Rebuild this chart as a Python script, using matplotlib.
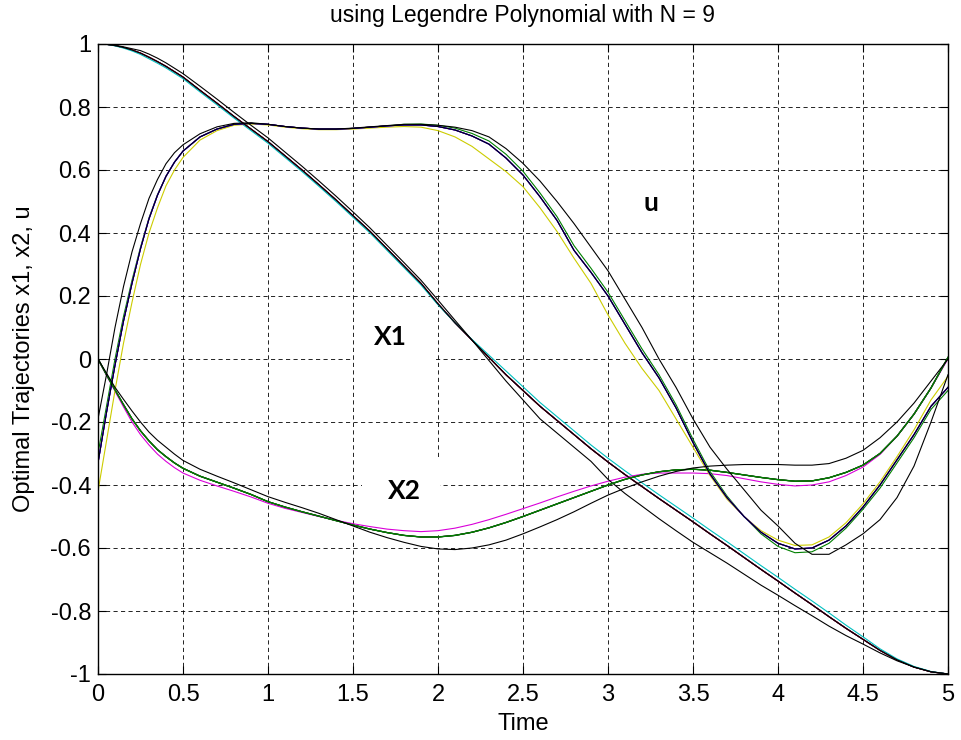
import matplotlib
matplotlib.use("Agg")
import matplotlib.pyplot as plt
from matplotlib.patches import Rectangle

# time samples (finer at the start where u rises steeply)
t = [0.0, 0.05, 0.1, 0.15, 0.2, 0.25, 0.3, 0.35, 0.4, 0.45, 0.5,
     0.6, 0.7, 0.8, 0.9, 1.0, 1.1, 1.2, 1.3, 1.4, 1.5, 1.6, 1.7, 1.8, 1.9, 2.0,
     2.1, 2.2, 2.3, 2.4, 2.5, 2.6, 2.7, 2.8, 2.9, 3.0, 3.1, 3.2, 3.3, 3.4, 3.5,
     3.6, 3.7, 3.8, 3.9, 4.0, 4.1, 4.2, 4.3, 4.4, 4.5, 4.6, 4.7, 4.8, 4.9, 5.0]

x1_main = [1.0, 0.999, 0.995, 0.989, 0.981, 0.971, 0.958, 0.944, 0.929, 0.912, 0.895,
           0.853, 0.812, 0.77, 0.73, 0.69, 0.645, 0.6, 0.553, 0.505, 0.455, 0.405, 0.35, 0.295, 0.24, 0.175,
           0.115, 0.06, 0.005, -0.05, -0.1, -0.15, -0.195, -0.24, -0.285, -0.327, -0.367, -0.405, -0.443, -0.48, -0.517,
           -0.555, -0.592, -0.63, -0.668, -0.705, -0.743, -0.78, -0.818, -0.855, -0.89, -0.925, -0.955, -0.978, -0.993, -1.0]
x1_cyan = [1.0, 0.999, 0.994, 0.987, 0.978, 0.967, 0.953, 0.939, 0.924, 0.907, 0.89,
           0.848, 0.807, 0.765, 0.725, 0.685, 0.64, 0.595, 0.548, 0.5, 0.45, 0.4, 0.345, 0.29, 0.235, 0.172,
           0.115, 0.062, 0.012, -0.038, -0.088, -0.138, -0.183, -0.228, -0.273, -0.315, -0.355, -0.393, -0.431, -0.468, -0.505,
           -0.543, -0.58, -0.618, -0.656, -0.693, -0.731, -0.768, -0.806, -0.845, -0.882, -0.92, -0.952, -0.976, -0.992, -1.0]
x1_black = [1.0, 0.999, 0.996, 0.991, 0.985, 0.979, 0.968, 0.955, 0.94, 0.923, 0.906,
            0.866, 0.825, 0.783, 0.742, 0.702, 0.657, 0.612, 0.565, 0.517, 0.467, 0.416, 0.361, 0.306, 0.25, 0.187,
            0.123, 0.06, -0.005, -0.07, -0.13, -0.19, -0.235, -0.28, -0.325, -0.382, -0.427, -0.467, -0.507, -0.545, -0.582,
            -0.615, -0.648, -0.683, -0.718, -0.75, -0.783, -0.815, -0.848, -0.878, -0.905, -0.933, -0.958, -0.978, -0.993, -1.0]

x2_main = [0.0, -0.05, -0.098, -0.145, -0.19, -0.228, -0.26, -0.288, -0.31, -0.33, -0.347,
           -0.372, -0.391, -0.41, -0.43, -0.453, -0.47, -0.485, -0.499, -0.513, -0.527, -0.54, -0.551, -0.56, -0.565, -0.565,
           -0.56, -0.55, -0.536, -0.519, -0.5, -0.48, -0.46, -0.44, -0.42, -0.4, -0.382, -0.368, -0.358, -0.352, -0.35,
           -0.353, -0.36, -0.368, -0.376, -0.383, -0.388, -0.387, -0.377, -0.36, -0.337, -0.3, -0.245, -0.175, -0.092, 0.005]
x2_magenta = [0.0, -0.052, -0.102, -0.152, -0.2, -0.24, -0.273, -0.302, -0.325, -0.345, -0.362,
              -0.385, -0.403, -0.42, -0.438, -0.458, -0.474, -0.487, -0.5, -0.512, -0.523, -0.532, -0.54, -0.545, -0.548, -0.545,
              -0.537, -0.525, -0.51, -0.493, -0.475, -0.457, -0.438, -0.42, -0.403, -0.388, -0.375, -0.366, -0.362, -0.362, -0.362,
              -0.364, -0.37, -0.38, -0.39, -0.398, -0.403, -0.4, -0.39, -0.37, -0.343, -0.303, -0.245, -0.175, -0.092, 0.0]
x2_black = [0.0, -0.045, -0.09, -0.128, -0.165, -0.2, -0.232, -0.258, -0.28, -0.302, -0.322,
            -0.35, -0.372, -0.393, -0.415, -0.437, -0.455, -0.472, -0.49, -0.51, -0.53, -0.55, -0.567, -0.582, -0.595, -0.603,
            -0.605, -0.6, -0.59, -0.575, -0.555, -0.533, -0.51, -0.485, -0.458, -0.432, -0.41, -0.39, -0.372, -0.357, -0.346,
            -0.34, -0.337, -0.335, -0.335, -0.335, -0.337, -0.337, -0.332, -0.315, -0.29, -0.25, -0.2, -0.14, -0.07, 0.0]

u_main = [-0.33, -0.17, -0.02, 0.12, 0.24, 0.35, 0.445, 0.52, 0.58, 0.625, 0.66,
          0.705, 0.73, 0.745, 0.748, 0.745, 0.738, 0.733, 0.73, 0.73, 0.732, 0.736, 0.74, 0.743, 0.743, 0.738,
          0.727, 0.708, 0.682, 0.638, 0.584, 0.515, 0.44, 0.345, 0.275, 0.2, 0.11, 0.02, -0.06, -0.155, -0.265,
          -0.365, -0.44, -0.5, -0.55, -0.585, -0.603, -0.6, -0.575, -0.53, -0.47, -0.4, -0.32, -0.24, -0.15, -0.09]
u_green = [-0.3, -0.15, 0.0, 0.135, 0.25, 0.355, 0.448, 0.522, 0.58, 0.625, 0.66,
           0.705, 0.73, 0.745, 0.748, 0.745, 0.738, 0.733, 0.73, 0.73, 0.732, 0.736, 0.74, 0.745, 0.746, 0.742,
           0.733, 0.716, 0.692, 0.65, 0.596, 0.527, 0.452, 0.36, 0.288, 0.212, 0.122, 0.032, -0.05, -0.145, -0.255,
           -0.357, -0.435, -0.5, -0.555, -0.595, -0.615, -0.612, -0.585, -0.537, -0.477, -0.41, -0.33, -0.25, -0.16, -0.1]
u_yellow = [-0.42, -0.26, -0.1, 0.05, 0.18, 0.3, 0.4, 0.48, 0.55, 0.6, 0.64,
            0.695, 0.725, 0.742, 0.746, 0.743, 0.736, 0.731, 0.728, 0.728, 0.73, 0.733, 0.736, 0.738, 0.736, 0.725,
            0.705, 0.675, 0.635, 0.595, 0.547, 0.48, 0.405, 0.32, 0.24, 0.14, 0.05, -0.03, -0.1, -0.19, -0.28,
            -0.37, -0.445, -0.5, -0.545, -0.575, -0.592, -0.59, -0.565, -0.52, -0.46, -0.39, -0.31, -0.225, -0.13, -0.055]
u_black = [-0.19, -0.05, 0.1, 0.23, 0.34, 0.43, 0.51, 0.57, 0.62, 0.655, 0.68,
           0.715, 0.737, 0.748, 0.75, 0.745, 0.738, 0.733, 0.73, 0.73, 0.733, 0.737, 0.741, 0.745, 0.745, 0.742,
           0.736, 0.725, 0.705, 0.668, 0.621, 0.565, 0.5, 0.43, 0.355, 0.28, 0.19, 0.1, 0.0, -0.09, -0.19,
           -0.28, -0.35, -0.415, -0.48, -0.53, -0.585, -0.62, -0.62, -0.59, -0.555, -0.51, -0.44, -0.34, -0.2, -0.05]

C_R = (1, 0, 0)
C_G = (0, 0.5, 0)
C_B = (0, 0, 1)
C_C = (0, 0.75, 0.75)
C_M = (0.85, 0, 0.85)
C_Y = (0.8, 0.8, 0)
C_K = (0, 0, 0)

plt.rcParams['font.family'] = ['Liberation Sans', 'DejaVu Sans']


def draw_bundle(ax):
    lw = 0.8
    # x1
    for c in [C_Y, C_M, C_G, C_B, C_R]:
        ax.plot(t, x1_main, color=c, lw=lw, zorder=2)
    ax.plot(t, x1_cyan, color=C_C, lw=lw, zorder=2)
    ax.plot(t, x1_main, color=C_K, lw=lw, zorder=2.1)
    ax.plot(t, x1_black, color=C_K, lw=lw, zorder=2.1)
    # x2
    for c in [C_R, C_C, C_B, C_Y]:
        ax.plot(t, x2_main, color=c, lw=lw, zorder=2)
    ax.plot(t, x2_magenta, color=C_M, lw=lw, zorder=2)
    ax.plot(t, x2_main, color=C_K, lw=lw, zorder=2)
    ax.plot(t, x2_main, color=C_G, lw=1.0, zorder=2.1)
    ax.plot(t, x2_black, color=C_K, lw=lw, zorder=2.1)
    # u
    ax.plot(t, u_yellow, color=C_Y, lw=lw, zorder=2)
    ax.plot(t, u_green, color=C_G, lw=lw, zorder=2)
    for c in [C_R, C_C, C_M, C_B]:
        ax.plot(t, u_main, color=c, lw=lw, zorder=2)
    ax.plot(t, u_main, color=C_K, lw=0.7, zorder=2.1)
    ax.plot(t, u_black, color=C_K, lw=lw, zorder=2.1)


def main():
    fig = plt.figure(figsize=(9.62, 7.40), dpi=100)
    ax = fig.add_axes([98 / 962, 1 - 674 / 740, 850 / 962, 630 / 740])
    ax.set_axisbelow(True)

    draw_bundle(ax)

    # white boxes behind the hand-placed labels
    ax.add_patch(Rectangle((1.505, -0.003), 0.483, 0.181, facecolor='white',
                           edgecolor='none', zorder=1))
    ax.add_patch(Rectangle((1.553, -0.56), 0.46, 0.25, facecolor='white',
                           edgecolor='none', zorder=1))
    lab = dict(family=['Lato', 'DejaVu Sans'], fontweight='bold', fontsize=19,
               ha='center', va='center', zorder=3)
    ax.text(1.72, 0.07, 'X1', **lab)
    ax.text(1.80, -0.42, 'X2', **lab)
    ax.text(3.25, 0.495, 'u', **lab)

    ax.set_xlim(0, 5)
    ax.set_ylim(-1, 1)
    ax.set_xticks([0, 0.5, 1, 1.5, 2, 2.5, 3, 3.5, 4, 4.5, 5])
    ax.set_xticklabels(['0', '0.5', '1', '1.5', '2', '2.5', '3', '3.5', '4', '4.5', '5'])
    ax.set_yticks([-1, -0.8, -0.6, -0.4, -0.2, 0, 0.2, 0.4, 0.6, 0.8, 1])
    ax.set_yticklabels(['-1', '-0.8', '-0.6', '-0.4', '-0.2', '0', '0.2', '0.4', '0.6', '0.8', '1'])
    ax.tick_params(direction='in', length=6, width=0.8, top=True, right=True,
                   labelsize=17)
    ax.tick_params(axis='x', pad=7)
    ax.tick_params(axis='y', pad=5)
    ax.grid(True, color='k', linestyle=(0, (5, 4)), linewidth=0.6)
    for s in ax.spines.values():
        s.set_linewidth(1.0)

    ax.set_title('using Legendre Polynomial with N = 9', fontsize=16.5, pad=16)
    ax.set_xlabel('Time', fontsize=17, labelpad=5)
    ax.set_ylabel('Optimal Trajectories x1, x2, u', fontsize=17, labelpad=11)

    fig.savefig('out.png', dpi=100)


if __name__ == "__main__":
    main()
